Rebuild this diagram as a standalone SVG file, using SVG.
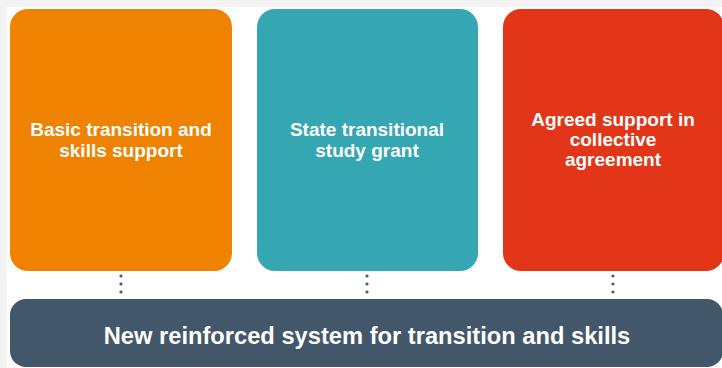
<svg xmlns="http://www.w3.org/2000/svg" width="722" height="368" viewBox="0 0 722 368">
<style>
.t{font-family:"Liberation Sans",Arial,sans-serif;font-weight:bold;fill:#fff;text-anchor:middle}
.s{font-size:19px}
.b{font-size:23.7px}
.dot{fill:#4a5a6a}
</style>
<rect x="0" y="0" width="722" height="368" fill="#fff"/>
<rect x="0" y="0" width="722" height="7" fill="#f2f2f2"/>
<rect x="0" y="0" width="7" height="368" fill="#f2f2f2"/>
<g id="connectors">
<circle class="dot" cx="121" cy="276" r="1.6"/><circle class="dot" cx="121" cy="284" r="1.6"/><circle class="dot" cx="121" cy="292" r="1.6"/>
<circle class="dot" cx="367" cy="269" r="1.6"/><circle class="dot" cx="367" cy="276" r="1.6"/><circle class="dot" cx="367" cy="284" r="1.6"/><circle class="dot" cx="367" cy="292" r="1.6"/>
<circle class="dot" cx="613" cy="276" r="1.6"/><circle class="dot" cx="613" cy="284" r="1.6"/><circle class="dot" cx="613" cy="292" r="1.6"/>
</g>
<g id="basic">
<rect x="10" y="9" width="222" height="262" rx="18" fill="#ef8200"/>
<text class="t s" x="121" y="136">Basic transition and</text>
<text class="t s" x="121" y="157">skills support</text>
</g>
<g id="state">
<rect x="257" y="9" width="221" height="262" rx="18" fill="#35a7b3"/>
<text class="t s" x="367" y="136">State transitional</text>
<text class="t s" x="367" y="157">study grant</text>
</g>
<g id="agreed">
<rect x="503" y="9" width="221" height="262" rx="18" fill="#e33618"/>
<text class="t s" x="613" y="126">Agreed support in</text>
<text class="t s" x="613" y="146">collective</text>
<text class="t s" x="613" y="166">agreement</text>
</g>
<g id="system">
<rect x="10" y="299" width="713" height="68" rx="16" fill="#42576a"/>
<text class="t b" x="367" y="344">New reinforced system for transition and skills</text>
</g>
</svg>
